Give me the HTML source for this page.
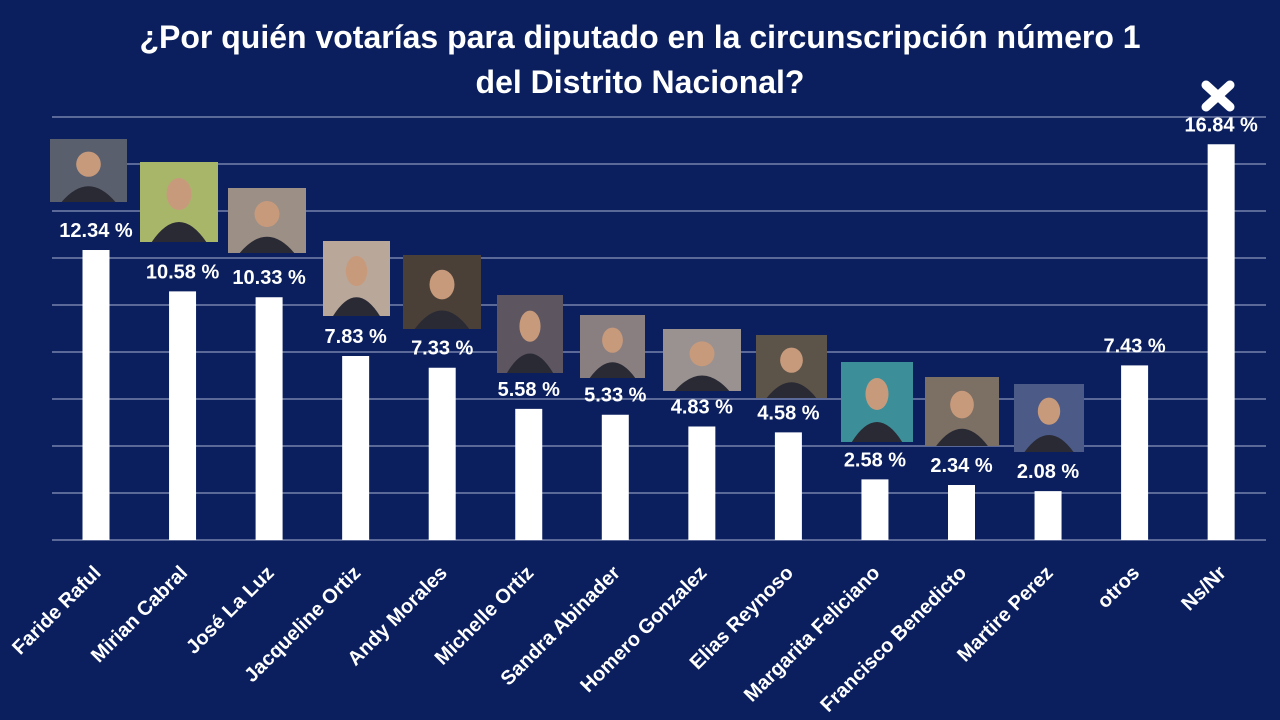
<!DOCTYPE html>
<html><head><meta charset="utf-8"><style>
html,body{margin:0;padding:0;background:#0b1f5e;}
svg{display:block;font-family:"Liberation Sans",sans-serif;}
</style></head><body>
<svg id="chart" width="1280" height="720" viewBox="0 0 1280 720">
<rect x="0" y="0" width="1280" height="720" fill="#0b1f5e"/>
<text x="640" y="48" text-anchor="middle" fill="#fff" font-size="32" font-weight="bold">¿Por quién votarías para diputado en la circunscripción  número 1</text>
<text x="640" y="93" text-anchor="middle" fill="#fff" font-size="32" font-weight="bold">del Distrito Nacional?</text>
<g id="grid"></g><g id="photos"></g><g id="bars"></g><g id="labels"></g>
<g transform="translate(1218,96)">
<path d="M-12,-11 L12,11 M12,-11 L-12,11" stroke="#fff" stroke-width="9" stroke-linecap="round"/>
</g>
</svg>
<script>
const categories=["Faride Raful","Mirian Cabral","José La Luz","Jacqueline Ortiz","Andy Morales","Michelle Ortiz","Sandra Abinader","Homero Gonzalez","Elias Reynoso","Margarita Feliciano","Francisco Benedicto","Martire Perez","otros","Ns/Nr"];
const values=[12.34,10.58,10.33,7.83,7.33,5.58,5.33,4.83,4.58,2.58,2.34,2.08,7.43,16.84];
const valueLabels=["12.34 %","10.58 %","10.33 %","7.83 %","7.33 %","5.58 %","5.33 %","4.83 %","4.58 %","2.58 %","2.34 %","2.08 %","7.43 %","16.84 %"];
const gridTicks=[0,2,4,6,8,10,12,14,16,18];
const NS="http://www.w3.org/2000/svg";
const y0=540, pxPer=23.5;
function yS(v){return y0-v*pxPer;}
function xS(i){return 96+i*86.55;}
const photoBoxes=[[50,139,77,63],[140,162,78,80],[228,188,78,65],[323,241,67,75],[403,255,78,74],[497,295,66,78],[580,315,65,63],[663,329,78,62],[756,335,71,63],[841,362,72,80],[925,377,74,69],[1014,384,70,68]];
const photoColors=["#5a5f6e","#a8b66a","#9c8f86","#b9a79a","#4a4038","#5d5560","#8a7f80","#9a9290","#5c5448","#3c8f99","#7c6f64","#4b5a86"];
function mk(t,a,p){const e=document.createElementNS(NS,t);for(const k in a)e.setAttribute(k,a[k]);p.appendChild(e);return e;}
const grid=document.getElementById('grid');
gridTicks.forEach(t=>{
 const l=mk('line',{x1:52,x2:1266,y1:yS(t),y2:yS(t),stroke:'#aab3d0','stroke-width':1},grid);
 
 
});
const ph=document.getElementById('photos');
photoBoxes.forEach((b,i)=>{
 const r=mk('rect',{x:b[0],y:b[1],width:b[2],height:b[3],fill:photoColors[i]},ph);
 
 
 const h=mk('ellipse',{cx:b[0]+b[2]/2,cy:b[1]+b[3]*0.4,rx:b[2]*0.16,ry:b[3]*0.2,fill:'#c89a7c'},ph);
 
 
 const s=mk('path',{d:`M${b[0]+b[2]*0.15},${b[1]+b[3]} Q${b[0]+b[2]/2},${b[1]+b[3]*0.5} ${b[0]+b[2]*0.85},${b[1]+b[3]} Z`,fill:'#2a2a35'},ph);
 
 
});
const bars=document.getElementById('bars'),labs=document.getElementById('labels');
values.forEach((v,i)=>{
 const x=xS(i);
 const r=mk('rect',{x:x-13.5,y:yS(v),width:27,height:y0-yS(v),fill:'#fff'},bars);
 
 
 const t=mk('text',{x:x,y:yS(v)-13,'text-anchor':'middle',fill:'#fff','font-size':20,'font-weight':'bold'},labs);
 t.textContent=valueLabels[i];
 
 
 const c=mk('text',{x:0,y:0,'text-anchor':'end',fill:'#fff','font-size':20,'font-weight':'bold',transform:`translate(${x+6},${574}) rotate(-45)`},labs);
 c.textContent=categories[i];
 
 
});
</script>
</body></html>
